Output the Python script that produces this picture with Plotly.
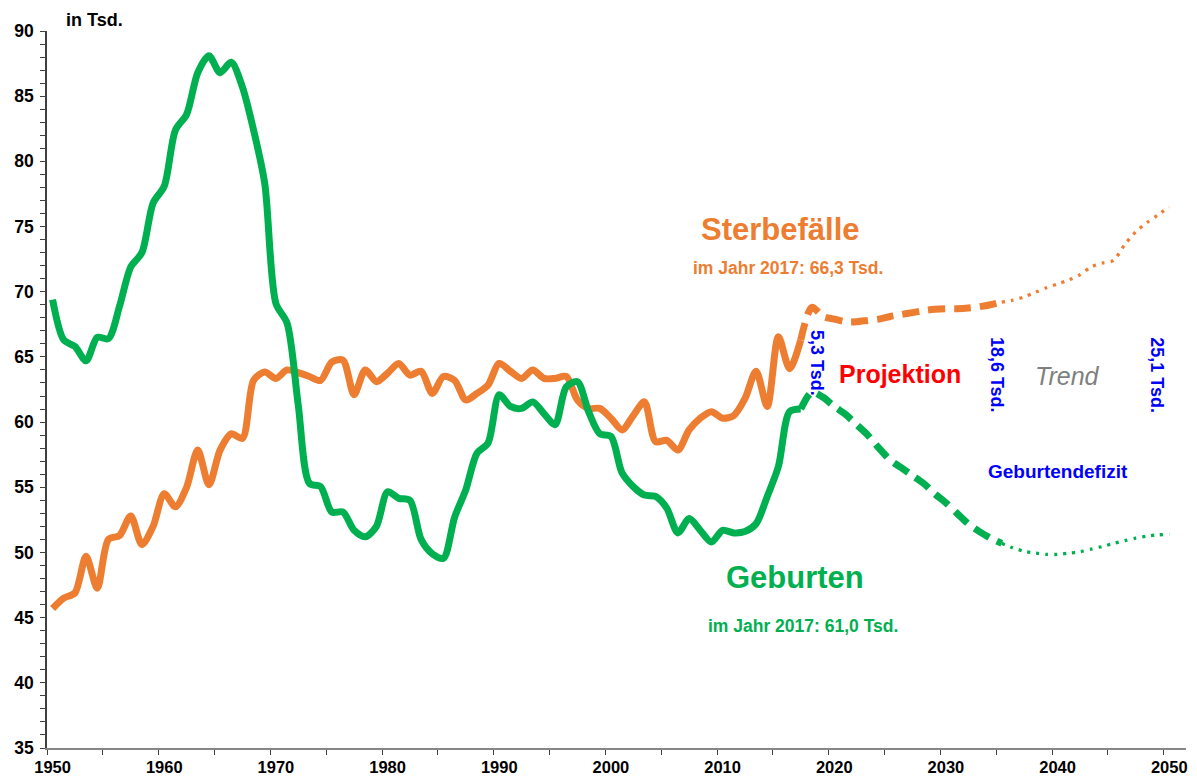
import plotly.graph_objects as go

years_hist = list(range(1950, 2018))
births_hist = [69.4, 66.3, 65.8, 64.7, 66.5, 66.4, 68.9, 71.9, 73.0, 76.8,
               78.1, 82.4, 83.6, 86.8, 88.1, 86.8, 87.6, 85.7, 82.4, 78.3,
               69.1, 67.6, 61.3, 55.3, 55.05, 53.1, 53.1, 51.7, 51.2, 52.0,
               54.65, 54.15, 54.0, 51.0, 49.9, 49.55, 52.7, 54.8, 57.6, 58.4,
               62.1, 61.2, 61.05, 61.55, 60.65, 59.8, 62.7, 63.1, 60.8, 59.1,
               58.9, 56.1, 55.05, 54.4, 54.3, 53.4, 51.5, 52.6, 51.7, 50.8,
               51.7, 51.5, 51.6, 52.2, 54.3, 56.6, 60.8, 61.0]
deaths_hist = [45.7, 46.5, 46.9, 49.7, 47.25, 51.0, 51.3, 52.8, 50.6, 52.0,
               54.5, 53.5, 55.0, 57.85, 55.2, 57.85, 59.1, 58.75, 63.2, 63.85,
               63.35, 64.0, 63.8, 63.5, 63.2, 64.6, 64.75, 62.1, 64.0, 63.1,
               63.75, 64.5, 63.6, 63.9, 62.2, 63.5, 63.2, 61.7, 62.2, 62.85,
               64.5, 63.9, 63.35, 64.0, 63.35, 63.35, 63.5, 61.7, 61.05, 61.05,
               60.3, 59.4, 60.5, 61.55, 58.5, 58.6, 57.85, 59.4, 60.3, 60.8,
               60.3, 60.5, 61.8, 63.9, 61.2, 66.55, 64.1, 66.3]

years_proj = list(range(2017, 2036))
births_proj = [61.0, 62.3, 61.9, 61.2, 60.6, 59.8, 59.0, 58.0, 57.1, 56.5,
               55.9, 55.3, 54.5, 53.8, 53.0, 52.2, 51.6, 51.1, 50.7]
deaths_proj = [66.3, 68.8, 68.1, 67.9, 67.7, 67.7, 67.8, 67.9, 68.1, 68.25,
               68.4, 68.55, 68.65, 68.7, 68.7, 68.75, 68.85, 69.0, 69.2]

years_trend = list(range(2035, 2051))
births_trend = [50.7, 50.35, 50.1, 49.95, 49.85, 49.85, 49.95, 50.05, 50.25, 50.45,
                50.7, 50.9, 51.1, 51.25, 51.35, 51.4]
deaths_trend = [69.2, 69.35, 69.6, 69.95, 70.3, 70.6, 70.9, 71.3, 71.9, 72.2,
                72.4, 73.6, 74.6, 75.3, 75.9, 76.5]

x_labels = [1950, 1960, 1970, 1980, 1990, 2000, 2010, 2020, 2030, 2040, 2050]

ORANGE = "#ED7D31"
GREEN = "#00B050"
BLUE = "#0000FF"
FONT = "Arial, 'Liberation Sans', sans-serif"

fig = go.Figure()

def add_line(x, y, color, width, dash=None):
    fig.add_trace(go.Scatter(
        x=x, y=y, mode="lines",
        line=dict(color=color, width=width, shape="spline", smoothing=0.8,
                  dash=dash if dash else "solid"),
        hoverinfo="skip", showlegend=False))

add_line(years_hist, deaths_hist, ORANGE, 7)
add_line(years_hist, births_hist, GREEN, 7)
add_line(years_proj, deaths_proj, ORANGE, 7, "17px,9px")
add_line(years_proj, births_proj, GREEN, 7, "17px,9px")
add_line(years_trend, deaths_trend, ORANGE, 3.3, "3px,6px")
add_line(years_trend, births_trend, GREEN, 3.3, "3px,6px")

ann = []

def text(x, y, s, color, size, bold=True, italic=False, angle=0):
    t = s
    if bold:
        t = "<b>" + t + "</b>"
    if italic:
        t = "<i>" + t + "</i>"
    ann.append(dict(x=x, y=y, xref="x", yref="y", text=t, showarrow=False,
                    textangle=angle, font=dict(family=FONT, size=size, color=color),
                    xanchor="center", yanchor="middle"))

text(2015.2, 74.8, "Sterbefälle", ORANGE, 31)
text(2015.9, 71.8, "im Jahr 2017: 66,3 Tsd.", ORANGE, 17.5)
text(2016.5, 48.1, "Geburten", GREEN, 31)
text(2017.2, 44.35, "im Jahr 2017: 61,0 Tsd.", GREEN, 17.5)
text(2018.4, 64.5, "5,3 Tsd.", BLUE, 18, angle=90)
text(2034.6, 63.6, "18,6 Tsd.", BLUE, 18, angle=90)
text(2048.9, 63.6, "25,1 Tsd.", BLUE, 18, angle=90)
text(2025.9, 63.7, "Projektion", "#FF0000", 25)
text(2040.9, 63.5, "Trend", "#7F7F7F", 25, bold=False, italic=True)
text(2040.0, 56.2, "Geburtendefizit", BLUE, 19)

ann.append(dict(x=0.042, y=1.015, xref="paper", yref="paper", text="<b>in Tsd.</b>",
                showarrow=False, xanchor="center", yanchor="middle",
                font=dict(family=FONT, size=18, color="black")))

fig.update_layout(
    width=1197, height=776,
    margin=dict(l=47, r=11, t=31, b=28, autoexpand=False),
    paper_bgcolor="white", plot_bgcolor="white",
    annotations=ann,
    xaxis=dict(
        range=[1949.5, 2051.5],
        automargin=False,
        tickvals=x_labels,
        ticktext=[str(v) for v in x_labels],
        ticks="",
        showgrid=False, zeroline=False,
        showline=True, linecolor="#868686", linewidth=1.5,
        tickfont=dict(family=FONT, size=16.5, color="black", weight="bold"),
        ticklabelstandoff=3,
        minor=dict(tick0=1949.5, dtick=5, ticks="outside", ticklen=5,
                   tickcolor="#404040", tickwidth=1, showgrid=False),
    ),
    yaxis=dict(
        range=[35, 90],
        automargin=False,
        dtick=5, tick0=35,
        ticks="outside", ticklen=5, tickcolor="#404040", tickwidth=1,
        showgrid=False, zeroline=False,
        showline=True, linecolor="#404040", linewidth=1.5,
        tickfont=dict(family=FONT, size=17.5, color="black", weight="bold"),
        ticklabelstandoff=3,
        minor=dict(dtick=1, ticks="outside", ticklen=5, tickcolor="#404040",
                   tickwidth=1, showgrid=False),
    ),
)

fig.write_html("out.html",
               config={"displayModeBar": False},
               post_script="document.body.style.margin='0';document.body.style.overflow='hidden';")
